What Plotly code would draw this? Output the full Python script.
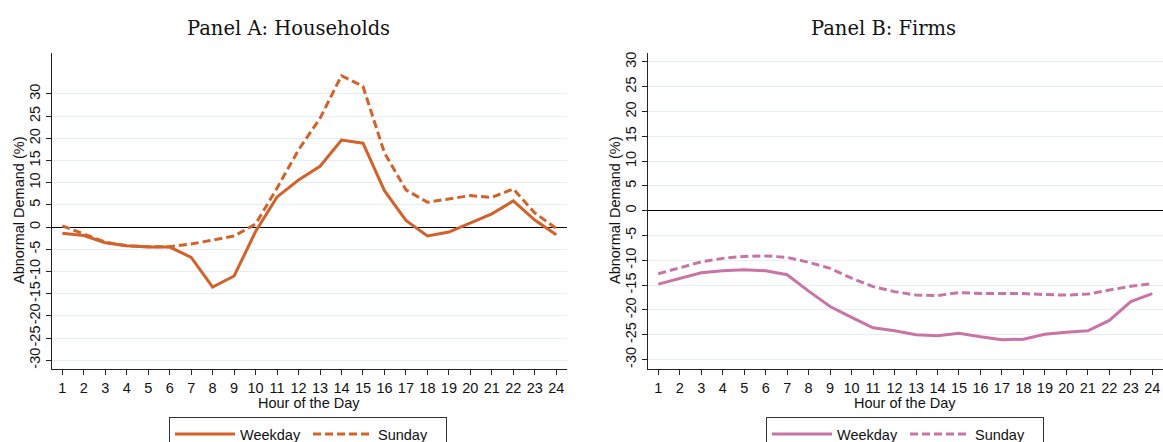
import plotly.graph_objects as go

hours = list(range(1, 25))
hh_weekday = [-1.4, -1.9, -3.5, -4.2, -4.5, -4.5, -6.8, -13.5, -11.0, -1.0, 6.8, 10.6,
              13.7, 19.6, 18.9, 8.2, 1.5, -2.0, -1.1, 1.0, 3.0, 5.9, 1.6, -1.7]
hh_sunday = [0.3, -1.6, -3.4, -4.2, -4.4, -4.4, -3.8, -2.9, -2.0, 0.7, 8.8, 17.4,
             24.5, 34.1, 31.7, 16.7, 8.4, 5.6, 6.3, 7.1, 6.7, 8.6, 3.2, -0.3]
firm_weekday = [-14.8, -13.6, -12.5, -12.1, -11.9, -12.1, -12.9, -16.2, -19.3, -21.5, -23.6, -24.2,
                -25.0, -25.2, -24.7, -25.4, -26.0, -25.9, -24.9, -24.5, -24.2, -22.1, -18.3, -16.7]
firm_sunday = [-12.7, -11.5, -10.3, -9.6, -9.2, -9.1, -9.4, -10.4, -11.6, -13.6, -15.3, -16.3,
               -17.0, -17.1, -16.5, -16.7, -16.7, -16.7, -16.9, -17.0, -16.8, -16.0, -15.2, -14.7]
ytick_vals = list(range(-30, 31, 5))
ytick_text = [str(v) for v in ytick_vals]
panel_titles = ["Panel A: Households", "Panel B: Firms"]
x_title = "Hour of the Day"
y_title = "Abnormal Demand (%)"

ORANGE = "#D3622A"
PINK = "#C974A6"
SANS = "Liberation Sans, Arial, sans-serif"
SERIF = "DejaVu Serif, serif"
W, H = 1163, 442

fig = go.Figure()
fig.add_trace(go.Scatter(x=hours, y=hh_weekday, mode="lines", name="Weekday",
                         line=dict(color=ORANGE, width=3), xaxis="x", yaxis="y", legend="legend"))
fig.add_trace(go.Scatter(x=hours, y=hh_sunday, mode="lines", name="Sunday",
                         line=dict(color=ORANGE, width=3, dash="8px,4px"), xaxis="x", yaxis="y", legend="legend"))
fig.add_trace(go.Scatter(x=hours, y=firm_weekday, mode="lines", name="Weekday",
                         line=dict(color=PINK, width=3), xaxis="x2", yaxis="y2", legend="legend2"))
fig.add_trace(go.Scatter(x=hours, y=firm_sunday, mode="lines", name="Sunday",
                         line=dict(color=PINK, width=3, dash="8px,4px"), xaxis="x2", yaxis="y2", legend="legend2"))

ydom = [1 - 369 / H, 1 - 53 / H]
xdom1 = [52 / W, 567 / W]
xdom2 = [648 / W, 1.0]

def xaxis(dom, anchor):
    return dict(domain=dom, anchor=anchor, range=[0.52, 24.5], tickvals=hours,
                ticktext=[str(h) for h in hours], showgrid=False, zeroline=False,
                showline=True, linecolor="#222", linewidth=1, ticks="outside",
                ticklen=5, tickcolor="#222", tickfont=dict(family=SANS, size=14.5, color="#111"),
                ticklabelstandoff=1, automargin=False)

def yaxis(rng, anchor):
    return dict(domain=ydom, anchor=anchor, range=rng, tickvals=ytick_vals, ticktext=ytick_text,
                tickangle=-90, showgrid=True, gridcolor="#E6F0F3", gridwidth=1,
                zeroline=True, zerolinecolor="#000", zerolinewidth=1,
                showline=True, linecolor="#222", linewidth=1, ticks="outside", ticklen=5,
                tickcolor="#222", tickfont=dict(family=SANS, size=14.5, color="#111"),
                ticklabelstandoff=0, automargin=False)

def ann(text, x, y, font, angle=0):
    return dict(text=text, x=x / W, y=1 - y / H, xref="paper", yref="paper",
                xanchor="center", yanchor="middle", textangle=angle,
                showarrow=False, font=font)

title_font = dict(family=SERIF, size=19.5, color="#111")
label_font = dict(family=SANS, size=14.5, color="#111")
annotations = [
    ann(panel_titles[0], 288, 28, title_font),
    ann(panel_titles[1], 883, 28, title_font),
    ann(x_title, 309, 403, label_font),
    ann(x_title, 905, 403, label_font),
    ann(y_title, 19, 211, label_font, -90),
    ann(y_title, 615, 211, label_font, -90),
]

legend_common = dict(orientation="h", xanchor="center", yanchor="top", y=1 - 417 / H,
                     bordercolor="#333", borderwidth=1, bgcolor="white",
                     font=dict(family=SANS, size=14.5, color="#111"),
                     itemwidth=60, entrywidth=63, entrywidthmode="pixels")

fig.update_layout(
    width=W, height=H, margin=dict(l=0, r=0, t=0, b=0, autoexpand=False),
    paper_bgcolor="white", plot_bgcolor="white",
    xaxis=xaxis(xdom1, "y"), yaxis=yaxis([-31.94, 39.2], "x"),
    xaxis2=xaxis(xdom2, "y2"), yaxis2=yaxis([-31.9, 31.8], "x2"),
    annotations=annotations,
    legend=dict(legend_common, x=308 / W),
    legend2=dict(legend_common, x=905 / W),
    showlegend=True,
)

fig.write_html("out.html", config={"displayModeBar": False},
               post_script="document.body.style.margin='0';document.body.style.overflow='hidden';")
